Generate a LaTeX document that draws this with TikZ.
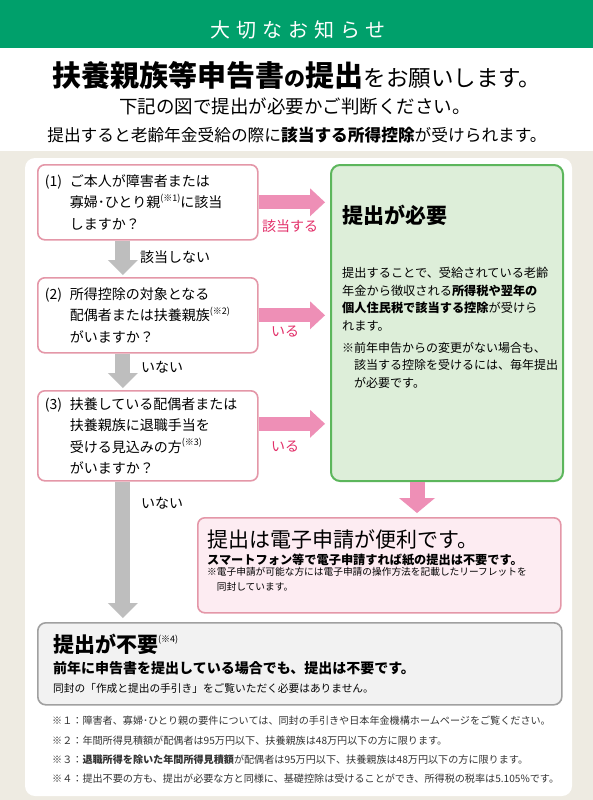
\documentclass[tikz,border=0pt]{standalone}
\usepackage{fontspec}
\setmainfont{Noto Sans CJK JP}
\newfontfamily\spacedfont[LetterSpace=30]{Noto Sans CJK JP}
\usetikzlibrary{positioning, calc, arrows.meta}

\definecolor{headgreen}{HTML}{00A06B}
\definecolor{paper}{HTML}{EEEBE2}
\definecolor{qborder}{HTML}{E497A8}
\definecolor{yespink}{HTML}{EE8FB6}
\definecolor{yestext}{HTML}{E3306A}
\definecolor{needfill}{HTML}{DDEED9}
\definecolor{needline}{HTML}{5CB65C}
\definecolor{efill}{HTML}{FDECF2}
\definecolor{noline}{HTML}{A0A0A0}
\definecolor{nofill}{HTML}{F2F2F2}
\definecolor{noarrow}{HTML}{BEBEBE}
\definecolor{notegray}{HTML}{333333}

\newcommand{\fsz}[2]{\fontsize{#1}{#2}\selectfont}
\newcommand{\noteref}[1]{\raisebox{0.45em}{\fsz{9}{9}#1}}

\begin{document}
\begin{tikzpicture}[x=1pt, y=-1pt,
    qbox/.style={draw=qborder, line width=1.6pt, fill=white, rounded corners=7pt,
      anchor=north west, minimum width=220pt, text width=206pt, inner xsep=7pt,
      inner ysep=0pt, align=left, font=\fsz{14}{21.5}},
    yesarrow/.style={draw=yespink, line width=14pt, shorten >=5pt,
      -{Triangle[length=15pt, width=28pt, line width=0pt]}},
    noarrow/.style={draw=noarrow, line width=15pt, shorten >=2pt,
      -{Triangle[length=15pt, width=30pt, line width=0pt]}},
    yeslabel/.style={text=yestext, font=\fsz{14}{14}},
    nolabel/.style={font=\fsz{14}{14}},
    txt/.style={anchor=west, inner sep=0pt}]
    \useasboundingbox (0,0) rectangle (593,800);

    % background and header
    \fill[paper] (0,0) rectangle (593,800);
    \fill[white] (0,0) rectangle (593,151);
    \fill[headgreen] (0,0) rectangle (593,48);
    \fill[white, rounded corners=10pt] (25,158) rectangle (572,796);

    \node[text=white, font=\spacedfont\fsz{20}{20}] (notice) at (298,30) {大切なお知らせ};
    \node (title) at (297,75) {{\fsz{29}{29}\bfseries 扶養親族等申告書}{\fsz{21}{21}\bfseries の}{\fsz{29}{29}\bfseries 提出}{\fsz{22.5}{22.5}をお願いします。}};
    \node[font=\fsz{18.5}{18.5}] (lead) at (295,106) {下記の図で提出が必要かご判断ください。};
    \node[font=\fsz{16.7}{16.7}] (benefit) at (297,135) {提出すると老齢年金受給の際に{\bfseries 該当する所得控除}が受けられます。};

    % questions
    \node[qbox, minimum height=75pt] (q1) at (37,164)
      {\makebox[25pt][l]{(1)}ご本人が障害者または\\
       \hspace*{25pt}寡婦･ひとり親\noteref{(※1)}に該当\\
       \hspace*{25pt}しますか？};
    \node[qbox, minimum height=75pt] (q2) at (37,277)
      {\makebox[25pt][l]{(2)}所得控除の対象となる\\
       \hspace*{25pt}配偶者または扶養親族\noteref{(※2)}\\
       \hspace*{25pt}がいますか？};
    \node[qbox, minimum height=90pt] (q3) at (37,390)
      {\makebox[25pt][l]{(3)}扶養している配偶者または\\
       \hspace*{25pt}扶養親族に退職手当を\\
       \hspace*{25pt}受ける見込みの方\noteref{(※3)}\\
       \hspace*{25pt}がいますか？};

    % submission needed
    \node[draw=needline, line width=2pt, fill=needfill, rounded corners=9pt, anchor=north west,
      minimum width=232pt, minimum height=316pt] (need) at (330,164) {};
    \node[txt, font=\fsz{21}{21}\bfseries] (needtitle) at (342,215) {提出が必要};
    \node[txt, anchor=north west, align=left, font=\fsz{12.2}{17.5}] (needbody) at (342,267)
      {提出することで、受給されている老齢\\
       年金から徴収される{\bfseries 所得税や翌年の}\\
       {\bfseries 個人住民税で該当する控除}が受けら\\
       れます。};
    \node[txt, anchor=north west, align=left, font=\fsz{12}{17.5}] (needremark) at (342,342)
      {※前年申告からの変更がない場合も、\\
       \hspace*{1em}該当する控除を受けるには、毎年提出\\
       \hspace*{1em}が必要です。};

    % e-filing
    \node[draw=qborder, line width=1.6pt, fill=efill, rounded corners=7pt, anchor=north west,
      minimum width=363pt, minimum height=95pt] (efile) at (197,517) {};
    \node[txt, font=\fsz{21}{21}] (efiletitle) at (207,539) {提出は電子申請が便利です。};
    \node[txt, font=\fsz{12.2}{12.2}\bfseries] (efilebody) at (207,560) {スマートフォン等で電子申請すれば紙の提出は不要です。};
    \node[txt, anchor=north west, align=left, font=\fsz{9.7}{15.5}] (efilenote) at (207,567)
      {※電子申請が可能な方には電子申請の操作方法を記載したリーフレットを\\
       \hspace*{1em}同封しています。};

    % not needed
    \node[draw=noline, line width=1.6pt, fill=nofill, rounded corners=8pt, anchor=north west,
      minimum width=524pt, minimum height=82pt] (notneeded) at (37,622) {};
    \node[txt, font=\fsz{21}{21}\bfseries] (notneededtitle) at (53,644) {提出が不要{\mdseries\noteref{(※4)}}};
    \node[txt, font=\fsz{14}{14}\bfseries] (notneededbody) at (53,668) {前年に申告書を提出している場合でも、提出は不要です。};
    \node[txt, font=\fsz{10.7}{10.7}] (notneedednote) at (53,688) {同封の「作成と提出の手引き」をご覧いただく必要はありません。};

    % arrows
    \draw[yesarrow] (q1.east) -- (q1.east -| need.west);
    \draw[yesarrow] (q2.east) -- (q2.east -| need.west);
    \draw[yesarrow] ([yshift=12pt]q3.east) -- ([yshift=12pt]q3.east -| need.west);
    \draw[noarrow] ([xshift=-25pt]q1.south) -- ([xshift=-25pt]q2.north);
    \draw[noarrow] ([xshift=-25pt]q2.south) -- ([xshift=-25pt]q3.north);
    \draw[noarrow, shorten >=4pt] ([xshift=-25pt]q3.south) -- ([xshift=-25pt]q3.south |- notneeded.north);
    \draw[yesarrow, line width=15pt, shorten >=4pt, -{Triangle[length=15pt, width=36pt, line width=0pt]}]
      ([xshift=-30pt]need.south) -- ([xshift=-30pt]need.south |- efile.north);

    \node[yeslabel] (yes1) at (290,226) {該当する};
    \node[nolabel] (no1) at (175,257) {該当しない};
    \node[yeslabel] (yes2) at (285,332) {いる};
    \node[nolabel] (no2) at (162,367) {いない};
    \node[yeslabel] (yes3) at (285,447) {いる};
    \node[nolabel] (no3) at (162,503) {いない};

    % footnotes
    \begin{scope}[every node/.style={txt, text=notegray, font=\fsz{10.1}{10.1}}]
      \node (fn1) at (52,721) {※１：障害者、寡婦･ひとり親の要件については、同封の手引きや日本年金機構ホームページをご覧ください。};
      \node (fn2) at (52,741) {※２：年間所得見積額が配偶者は95万円以下、扶養親族は48万円以下の方に限ります。};
      \node (fn3) at (52,760) {※３：{\bfseries 退職所得を除いた年間所得見積額}が配偶者は95万円以下、扶養親族は48万円以下の方に限ります。};
      \node (fn4) at (52,779) {※４：提出不要の方も、提出が必要な方と同様に、基礎控除は受けることができ、所得税の税率は5.105\%です。};
    \end{scope}
\end{tikzpicture}
\end{document}
